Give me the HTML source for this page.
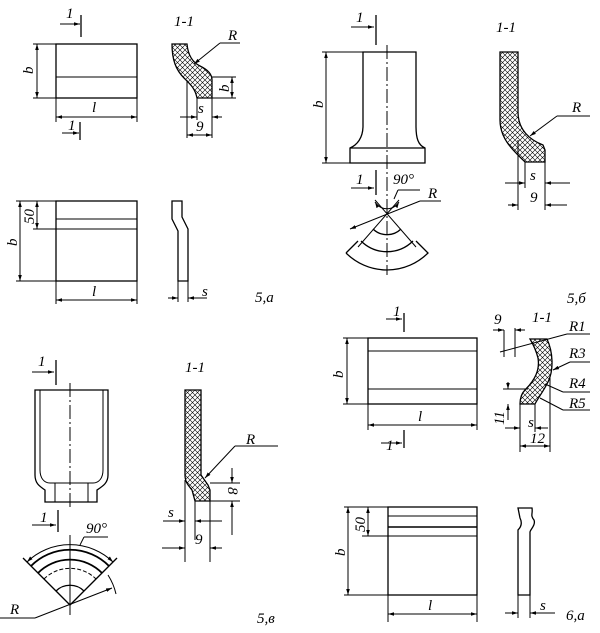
<!DOCTYPE html>
<html><head><meta charset="utf-8"><style>
html,body{margin:0;padding:0;background:#fff;}
svg{display:block;}
text{font-family:"Liberation Serif",serif;font-style:italic;font-size:15px;fill:#000;}
</style></head><body>
<svg width="600" height="633" viewBox="0 0 600 633" xmlns="http://www.w3.org/2000/svg">
<defs>
<pattern id="h" width="5" height="5" patternUnits="userSpaceOnUse">
<path d="M0,0L5,5M5,0L0,5" stroke="#000" stroke-width="0.6"/>
</pattern>
<marker id="a" viewBox="0 0 10 10" refX="10" refY="5" markerWidth="6" markerHeight="6" orient="auto-start-reverse"><path d="M0,2L10,5L0,8z" fill="#000"/></marker>
</defs>
<g stroke="#000" fill="none" stroke-width="1">
<!-- 5,a top -->
<rect x="56" y="44" width="81" height="54" stroke-width="1.3"/>
<line x1="56" y1="77" x2="137" y2="77"/>
<line x1="33" y1="44" x2="56" y2="44"/><line x1="33" y1="98" x2="56" y2="98"/>
<line x1="37" y1="44" x2="37" y2="98" marker-start="url(#a)" marker-end="url(#a)"/>
<line x1="56" y1="98" x2="56" y2="122"/><line x1="137" y1="98" x2="137" y2="122"/>
<line x1="56" y1="117" x2="137" y2="117" marker-start="url(#a)" marker-end="url(#a)"/>
<line x1="60" y1="24" x2="80" y2="24" marker-end="url(#a)"/><line x1="81" y1="15" x2="81" y2="37" stroke-width="1.3"/>
<line x1="62" y1="133" x2="79" y2="133" marker-end="url(#a)"/><line x1="80" y1="122" x2="80" y2="140" stroke-width="1.3"/>
<path d="M172,44 L187,44 C188,55 192,62 200,66 C208,70 212,74 212,80 L212,98 L197,98 C195,88 190,84 184,78 C176,70 172,60 172,44Z" fill="url(#h)" stroke-width="1.3"/>
<line x1="240" y1="43" x2="220" y2="43"/><line x1="220" y1="43" x2="194" y2="64" marker-end="url(#a)"/>
<line x1="212" y1="77" x2="236" y2="77"/><line x1="212" y1="98" x2="236" y2="98"/>
<line x1="232" y1="77" x2="232" y2="98" marker-start="url(#a)" marker-end="url(#a)"/>
<line x1="187" y1="80" x2="187" y2="138"/><line x1="197" y1="98" x2="197" y2="120"/><line x1="212" y1="98" x2="212" y2="138"/>
<line x1="180" y1="117" x2="197" y2="117" marker-end="url(#a)"/><line x1="212" y1="117" x2="222" y2="117" marker-start="url(#a)"/>
<line x1="187" y1="135" x2="212" y2="135" marker-start="url(#a)" marker-end="url(#a)"/>
<!-- 5,a bottom -->
<rect x="56" y="201" width="81" height="80" stroke-width="1.3"/>
<line x1="56" y1="219" x2="137" y2="219"/><line x1="56" y1="229" x2="137" y2="229"/>
<line x1="16" y1="201" x2="56" y2="201"/><line x1="33" y1="229" x2="56" y2="229"/><line x1="16" y1="281" x2="56" y2="281"/>
<line x1="37" y1="201" x2="37" y2="229" marker-start="url(#a)" marker-end="url(#a)"/>
<line x1="20" y1="201" x2="20" y2="281" marker-start="url(#a)" marker-end="url(#a)"/>
<line x1="56" y1="281" x2="56" y2="304"/><line x1="137" y1="281" x2="137" y2="304"/>
<line x1="56" y1="300" x2="137" y2="300" marker-start="url(#a)" marker-end="url(#a)"/>
<path d="M172,201 L182,201 L182,217 L188,229 L188,281 L178,281 L178,231 L172,219Z" stroke-width="1.3"/>
<line x1="178" y1="281" x2="178" y2="302"/><line x1="188" y1="281" x2="188" y2="302"/>
<line x1="168" y1="298" x2="178" y2="298" marker-end="url(#a)"/><line x1="188" y1="298" x2="207" y2="298" marker-start="url(#a)"/>
<!-- 5,б -->
<path d="M363,52 L416,52 L416,126 C416,138 418,145 425,148 L425,163 L350,163 L350,148 C357,145 363,138 363,126 Z" stroke-width="1.3"/>
<line x1="350" y1="148" x2="425" y2="148" stroke-width="1.3"/>
<line x1="387" y1="45" x2="387" y2="275" stroke-dasharray="14,3,2,3"/>
<line x1="322" y1="52" x2="363" y2="52"/><line x1="322" y1="163" x2="350" y2="163"/>
<line x1="326" y1="52" x2="326" y2="163" marker-start="url(#a)" marker-end="url(#a)"/>
<line x1="351" y1="27" x2="374" y2="27" marker-end="url(#a)"/><line x1="376" y1="15" x2="376" y2="45" stroke-width="1.3"/>
<line x1="351" y1="188" x2="374" y2="188" marker-end="url(#a)"/><line x1="376" y1="170" x2="376" y2="195" stroke-width="1.3"/>
<line x1="375" y1="200" x2="416" y2="247"/><line x1="399" y1="200" x2="358" y2="247"/>
<path d="M373,229 A20,20 0 0 0 401,229" stroke-width="1.3"/>
<path d="M361,241 A37,37 0 0 0 413,241" stroke-width="1.3"/>
<path d="M346,253 A58,58 0 0 0 428,253 L416,241 M346,253 L358,241" stroke-width="1.3"/>
<path d="M375,202 A14,14 0 0 0 399,202" marker-start="url(#a)" marker-end="url(#a)"/>
<line x1="420" y1="190" x2="398" y2="190"/><line x1="398" y1="190" x2="394" y2="199"/>
<line x1="441" y1="201" x2="420" y2="201"/><line x1="420" y1="201" x2="350" y2="229" marker-end="url(#a)"/>
<path d="M500,52 L518,52 L518,112 C518,130 530,140 543,145 L545,150 L545,162 L525,162 C515,152 500,140 500,120Z" fill="url(#h)" stroke-width="1.3"/>
<line x1="590" y1="116" x2="557" y2="116"/><line x1="557" y1="116" x2="530" y2="136" marker-end="url(#a)"/>
<line x1="518" y1="140" x2="518" y2="210"/><line x1="525" y1="162" x2="525" y2="188"/><line x1="545" y1="162" x2="545" y2="210"/>
<line x1="505" y1="183" x2="525" y2="183" marker-end="url(#a)"/><line x1="545" y1="183" x2="570" y2="183" marker-start="url(#a)"/>
<line x1="508" y1="205" x2="518" y2="205" marker-end="url(#a)"/><line x1="545" y1="205" x2="567" y2="205" marker-start="url(#a)"/>
<!-- 5,в -->
<path d="M35,390 L108,390 L108,475 C108,483 103,486 97,490 L97,502 L45,502 L45,490 C39,486 35,483 35,475Z" stroke-width="1.3"/>
<path d="M40,390 L40,470 C40,478 44,483 50,483 L93,483 C99,483 103,478 103,470 L103,390"/>
<line x1="55" y1="483" x2="55" y2="502"/><line x1="88" y1="483" x2="88" y2="502"/>
<line x1="70" y1="383" x2="70" y2="508" stroke-dasharray="14,3,2,3"/>
<line x1="32" y1="372" x2="54" y2="372" marker-end="url(#a)"/><line x1="56" y1="360" x2="56" y2="385" stroke-width="1.3"/>
<line x1="32" y1="525" x2="56" y2="525" marker-end="url(#a)"/><line x1="58" y1="510" x2="58" y2="532" stroke-width="1.3"/>
<line x1="70" y1="535" x2="70" y2="615"/>
<line x1="70" y1="605" x2="23" y2="558" stroke-width="1.3"/><line x1="70" y1="605" x2="117" y2="558" stroke-width="1.3"/>
<path d="M56,591 A20,20 0 0 1 84,591" stroke-width="1.3"/>
<path d="M44,579 A37,37 0 0 1 96,579" stroke-dasharray="4,2"/>
<path d="M38,573 A45,45 0 0 1 102,573" stroke-width="1.8"/>
<path d="M31,566 A55,55 0 0 1 109,566" stroke-width="1.8"/>
<path d="M27,562 A62,62 0 0 1 113,562" marker-start="url(#a)" marker-end="url(#a)"/>
<line x1="108" y1="537" x2="84" y2="537"/><line x1="84" y1="537" x2="80" y2="545"/>
<line x1="0" y1="618" x2="35" y2="618"/><line x1="35" y1="618" x2="112" y2="588" marker-end="url(#a)"/>
<path d="M108,575 A60,60 0 0 1 116,594"/>
<path d="M185,390 L201,390 L201,475 L208,485 L210,490 L210,501 L195,501 L192,490 C188,485 185,482 185,475Z" fill="url(#h)" stroke-width="1.3"/>
<line x1="278" y1="446" x2="235" y2="446"/><line x1="235" y1="446" x2="205" y2="478" marker-end="url(#a)"/>
<line x1="210" y1="483" x2="240" y2="483"/><line x1="210" y1="501" x2="240" y2="501"/>
<line x1="232" y1="468" x2="232" y2="483" marker-end="url(#a)"/><line x1="232" y1="501" x2="232" y2="535" marker-start="url(#a)"/>
<line x1="185" y1="480" x2="185" y2="562"/><line x1="195" y1="501" x2="195" y2="540"/><line x1="210" y1="501" x2="210" y2="562"/>
<line x1="163" y1="521" x2="185" y2="521" marker-end="url(#a)"/><line x1="195" y1="521" x2="222" y2="521" marker-start="url(#a)"/>
<line x1="162" y1="548" x2="185" y2="548" marker-end="url(#a)"/><line x1="210" y1="548" x2="222" y2="548" marker-start="url(#a)"/>
<!-- 6,a top -->
<rect x="368" y="338" width="109" height="66" stroke-width="1.3"/>
<line x1="368" y1="351" x2="477" y2="351"/><line x1="368" y1="389" x2="477" y2="389"/>
<line x1="343" y1="338" x2="368" y2="338"/><line x1="343" y1="404" x2="368" y2="404"/>
<line x1="347" y1="338" x2="347" y2="404" marker-start="url(#a)" marker-end="url(#a)"/>
<line x1="368" y1="404" x2="368" y2="430"/><line x1="477" y1="404" x2="477" y2="430"/>
<line x1="368" y1="425" x2="477" y2="425" marker-start="url(#a)" marker-end="url(#a)"/>
<line x1="386" y1="319" x2="402" y2="319" marker-end="url(#a)"/><line x1="404" y1="313" x2="404" y2="332" stroke-width="1.3"/>
<line x1="381" y1="443" x2="402" y2="443" marker-end="url(#a)"/><line x1="404" y1="430" x2="404" y2="448" stroke-width="1.3"/>
<path d="M530,339 L547,339 C553,352 554,370 548,382 C543,392 538,398 535,404 L520,404 C520,398 522,393 525,390 C535,380 540,370 538,358 C536,350 533,344 530,339Z" fill="url(#h)" stroke-width="1.3"/>
<line x1="590" y1="334" x2="567" y2="334"/><line x1="567" y1="334" x2="500" y2="352"/>
<line x1="504" y1="330" x2="504" y2="357"/><line x1="515" y1="328" x2="515" y2="357"/>
<line x1="493" y1="330" x2="504" y2="330" marker-end="url(#a)"/><line x1="515" y1="330" x2="525" y2="330" marker-start="url(#a)"/>
<line x1="590" y1="362" x2="570" y2="362"/><line x1="570" y1="362" x2="553" y2="370" marker-end="url(#a)"/>
<line x1="590" y1="392" x2="563" y2="392"/><line x1="563" y1="392" x2="545" y2="384"/>
<line x1="590" y1="410" x2="563" y2="410"/><line x1="563" y1="410" x2="540" y2="398"/>
<line x1="503" y1="389" x2="528" y2="389"/>
<line x1="508" y1="382" x2="508" y2="389" marker-end="url(#a)"/><line x1="508" y1="404" x2="508" y2="420" marker-start="url(#a)"/>
<line x1="520" y1="404" x2="520" y2="452"/><line x1="535" y1="404" x2="535" y2="432"/><line x1="550" y1="378" x2="550" y2="452"/>
<line x1="505" y1="428" x2="520" y2="428" marker-end="url(#a)"/><line x1="535" y1="428" x2="548" y2="428" marker-start="url(#a)"/>
<line x1="520" y1="446" x2="550" y2="446" marker-start="url(#a)" marker-end="url(#a)"/>
<!-- 6,a bottom -->
<rect x="388" y="507" width="89" height="88" stroke-width="1.3"/>
<line x1="388" y1="516" x2="477" y2="516"/><line x1="388" y1="527" x2="477" y2="527" stroke-width="1.6"/><line x1="388" y1="536" x2="477" y2="536"/>
<line x1="344" y1="507" x2="388" y2="507"/><line x1="362" y1="536" x2="388" y2="536"/><line x1="344" y1="595" x2="388" y2="595"/>
<line x1="368" y1="507" x2="368" y2="536" marker-start="url(#a)" marker-end="url(#a)"/>
<line x1="348" y1="507" x2="348" y2="595" marker-start="url(#a)" marker-end="url(#a)"/>
<line x1="388" y1="595" x2="388" y2="622"/><line x1="477" y1="595" x2="477" y2="622"/>
<line x1="388" y1="614" x2="477" y2="614" marker-start="url(#a)" marker-end="url(#a)"/>
<path d="M518,508 L532,508 C533,514 530,515 534,520 C536,525 530,530 530,532 L530,595 L518,595 L518,530 C522,526 522,522 520,518 Z" stroke-width="1.3"/>
<line x1="518" y1="595" x2="518" y2="618"/><line x1="530" y1="595" x2="530" y2="618"/>
<line x1="505" y1="613" x2="518" y2="613" marker-end="url(#a)"/><line x1="530" y1="613" x2="555" y2="613" marker-start="url(#a)"/>
</g>
<!-- labels -->
<text x="66" y="18">1</text><text x="68" y="130">1</text>
<text x="174" y="26">1-1</text><text x="228" y="40">R</text>
<text x="198" y="113">s</text><text x="196" y="131">9</text>
<text x="92" y="112">l</text><text x="92" y="296">l</text>
<text transform="translate(33,74) rotate(-90)">b</text>
<text transform="translate(229,92) rotate(-90)">b</text>
<text transform="translate(34,224) rotate(-90)">50</text>
<text transform="translate(17,246) rotate(-90)">b</text>
<text x="202" y="296">s</text>
<text x="255" y="302" font-style="normal" font-size="16">5,a</text>
<text x="356" y="22">1</text><text x="356" y="184">1</text>
<text transform="translate(323,108) rotate(-90)">b</text>
<text x="393" y="184" font-size="13">90°</text><text x="428" y="198">R</text>
<text x="496" y="32">1-1</text><text x="572" y="112">R</text>
<text x="530" y="180">s</text><text x="530" y="202">9</text>
<text x="567" y="303" font-style="normal" font-size="16">5,б</text>
<text x="38" y="366">1</text><text x="40" y="522">1</text>
<text x="86" y="533" font-size="13">90°</text><text x="10" y="614">R</text>
<text x="185" y="372">1-1</text><text x="246" y="444">R</text>
<text transform="translate(228,487) rotate(90)">8</text>
<text x="168" y="517">s</text><text x="195" y="544">9</text>
<text x="257" y="623" font-style="normal" font-size="16">5,в</text>
<text x="393" y="316">1</text><text x="386" y="450">1</text>
<text transform="translate(343,378) rotate(-90)">b</text>
<text x="418" y="421">l</text>
<text x="494" y="324">9</text><text x="532" y="322">1-1</text>
<text x="569" y="331">R1</text><text x="569" y="358">R3</text>
<text x="569" y="388">R4</text><text x="569" y="408">R5</text>
<text x="528" y="427">s</text><text x="530" y="443">12</text>
<text transform="translate(504,425) rotate(-90)">11</text>
<text transform="translate(365,532) rotate(-90)">50</text>
<text transform="translate(345,556) rotate(-90)">b</text>
<text x="428" y="610">l</text><text x="540" y="610">s</text>
<text x="566" y="620" font-style="normal" font-size="16">6,a</text>
</svg>
</body></html>
